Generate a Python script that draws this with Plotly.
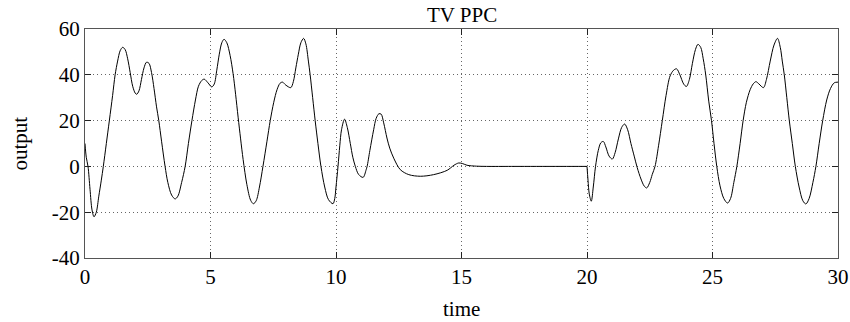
import plotly.graph_objects as go

# ---- segment 1: time 0..20 ----
time_a = [0, 0.05, 0.12, 0.2, 0.28, 0.36, 0.45, 0.55, 0.65, 0.73, 0.85, 0.97, 1.1, 1.2, 1.3, 1.4, 1.5, 1.6, 1.7, 1.8, 1.9, 2.0, 2.06, 2.15, 2.25, 2.35, 2.45, 2.55, 2.65, 2.75, 2.85, 2.94, 3.05, 3.19, 3.3, 3.45, 3.59, 3.7, 3.85, 3.99, 4.12, 4.26, 4.4, 4.52, 4.65, 4.75, 4.9, 5.05, 5.15, 5.25, 5.35, 5.45, 5.54, 5.65, 5.78, 5.9, 6.0, 6.1, 6.2, 6.3, 6.45, 6.6, 6.71, 6.82, 6.95, 7.09, 7.25, 7.38, 7.52, 7.65, 7.77, 7.87, 8.0, 8.2, 8.3, 8.4, 8.5, 8.6, 8.71, 8.8, 8.9, 8.97, 9.07, 9.17, 9.28, 9.4, 9.55, 9.7, 9.88, 9.95, 10.0, 10.08, 10.15, 10.22, 10.34, 10.45, 10.57, 10.67, 10.77, 10.9, 11.08, 11.2, 11.24, 11.35, 11.5, 11.6, 11.71, 11.8, 11.9, 12.03, 12.14, 12.3, 12.56, 12.9, 13.36, 13.89, 14.43, 14.7, 14.89, 15.05, 15.22, 15.6, 16, 17, 18, 19, 20]
output_a = [10, 4, 0, -10, -19, -22, -20, -13, -6, 0, 10, 20, 31, 40, 46, 50.5, 52, 51, 47, 41, 35, 32, 31.5, 33, 38, 43, 45.5, 45, 41, 34, 26, 20, 11, 0, -7, -12.5, -14.2, -13, -7, 0, 10, 20, 29, 35, 37.5, 38.1, 36.5, 34.7, 36, 42, 49, 54, 55.5, 54, 48.5, 40.5, 31.5, 21.5, 12, 3, -8, -14.8, -16.3, -15, -9, 0, 11, 20, 28, 33.5, 36.3, 36.8, 35.5, 34.4, 37, 43, 49, 54, 55.9, 53.5, 46, 40, 30, 20, 10, 0, -9, -14.5, -16.3, -14, -9, 0, 9, 16, 20.6, 17, 10, 4, 0, -3.5, -4.8, -1.5, 0, 7, 16, 21, 23, 22.8, 19, 12.4, 8, 3.6, -1.4, -3.6, -4.3, -3.6, -1.7, 0.5, 1.5, 1.2, 0.5, 0.1, 0, 0, 0, 0, 0]

# ---- segment 2: time 20..30 ----
time_b = [20, 20.04, 20.09, 20.17, 20.25, 20.34, 20.45, 20.55, 20.65, 20.75, 20.88, 21.01, 21.12, 21.25, 21.38, 21.5, 21.62, 21.75, 21.88, 22.0, 22.15, 22.28, 22.38, 22.5, 22.6, 22.71, 22.85, 23.0, 23.15, 23.31, 23.45, 23.57, 23.7, 23.85, 23.96, 24.08, 24.2, 24.32, 24.42, 24.53, 24.63, 24.73, 24.85, 24.96, 25.06, 25.17, 25.3, 25.45, 25.6, 25.72, 25.85, 25.97, 26.1, 26.22, 26.35, 26.5, 26.62, 26.73, 26.85, 27.03, 27.15, 27.3, 27.45, 27.59, 27.7, 27.78, 27.86, 27.96, 28.06, 28.18, 28.3, 28.45, 28.6, 28.72, 28.85, 29.0, 29.12, 29.25, 29.39, 29.55, 29.7, 29.85, 30]
output_b = [0, -6, -12, -15.2, -9, 0, 7, 10.3, 10.9, 8.5, 4.5, 3.2, 6, 12, 17, 18.5, 16, 10, 4.5, -0.5, -5.5, -8.6, -9.4, -7, -3.5, 0, 9, 20, 31, 39.5, 42, 42.6, 40, 36, 34.9, 38, 45, 51, 53.3, 52, 47, 40, 28.5, 20, 10, 0, -8.5, -14, -16, -14, -7, 0, 10, 20, 28, 33.5, 36, 37, 36, 34.4, 38, 46, 53, 55.9, 52, 46, 40, 30, 20, 10, 0, -9, -15, -16.4, -14, -7, 0, 10, 20, 29, 34, 36.5, 36.8]

x_ticks = [0, 5, 10, 15, 20, 25, 30]
y_ticks = [-40, -20, 0, 20, 40, 60]

FONT = "Liberation Serif"

fig = go.Figure()
for tx, ty in ((time_a, output_a), (time_b, output_b)):
    fig.add_trace(go.Scatter(
        x=tx, y=ty, mode="lines",
        line=dict(color="black", width=1, shape="spline", smoothing=0.9),
        hoverinfo="skip", showlegend=False,
    ))

axis_common = dict(
    showline=True, linecolor="#555", linewidth=1, mirror="ticks",
    ticks="inside", ticklen=6, tickcolor="#222", tickwidth=1,
    showgrid=True, gridcolor="#666", gridwidth=1, griddash="1px,3px",
    zeroline=False, automargin=False,
    tickfont=dict(family=FONT, size=21, color="black"),
)

fig.update_xaxes(range=[0, 30], tickvals=x_ticks, ticktext=[str(v) for v in x_ticks], **axis_common)
fig.update_yaxes(range=[-40, 60], tickvals=y_ticks, ticktext=[str(v) for v in y_ticks], **axis_common)

fig.update_layout(
    width=850, height=322,
    margin=dict(l=85, r=12, t=29, b=64),
    paper_bgcolor="white", plot_bgcolor="white",
    font=dict(family=FONT, size=21, color="black"),
    annotations=[
        dict(text="TV PPC", x=0.5, y=1, xref="paper", yref="paper",
             xanchor="center", yanchor="bottom", showarrow=False,
             font=dict(family=FONT, size=21)),
        dict(text="time", x=0.5, y=0, xref="paper", yref="paper",
             xanchor="center", yanchor="middle", yshift=-51, showarrow=False,
             font=dict(family=FONT, size=21)),
        dict(text="output", x=0, y=0.5, xref="paper", yref="paper",
             xanchor="center", yanchor="middle", xshift=-66, textangle=-90,
             showarrow=False, font=dict(family=FONT, size=21)),
    ],
)

fig.write_html("out.html")
